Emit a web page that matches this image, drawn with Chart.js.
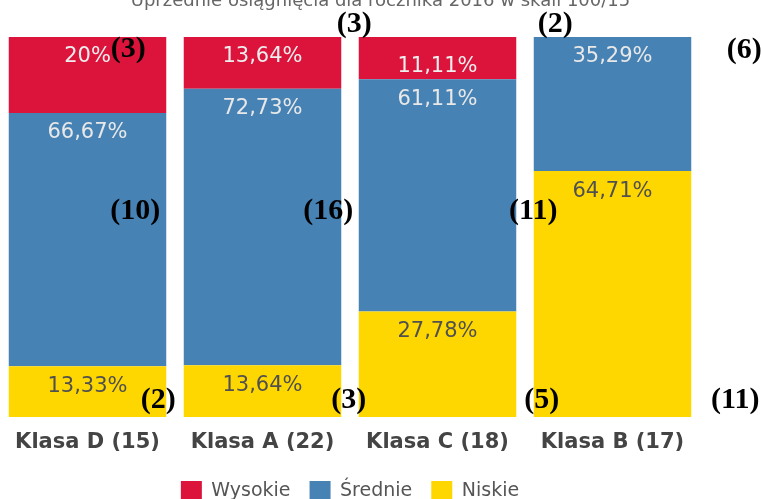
<!DOCTYPE html>
<html lang="pl">
<head>
<meta charset="utf-8">
<title>Uprzednie osiągnięcia</title>
<script src="https://cdn.jsdelivr.net/npm/chart.js@4/dist/chart.umd.min.js"></script>
<style>
    html, body { margin: 0; padding: 0; overflow: hidden; background: #fff; }
    #wrap { position: absolute; left: 0; top: -14px; width: 761px; height: 526px; }
</style>
</head>
<body>
<div id="wrap"><canvas id="chart"></canvas></div>
<script>
// Klasy i wyniki (procent uczniów w każdej grupie)
const classes = ['Klasa D (15)', 'Klasa A (22)', 'Klasa C (18)', 'Klasa B (17)'];
const wysokie = [20, 13.64, 11.11, 0];
const srednie = [66.67, 72.73, 61.11, 35.29];
const niskie = [13.33, 13.64, 27.78, 64.71];

// Liczba uczniów w grupach (dopiski w nawiasach)
const wysokieCount = [3, 3, 2, 0];
const srednieCount = [10, 16, 11, 6];
const niskieCount = [2, 3, 5, 11];

const chartTitle = 'Uprzednie osiągnięcia dla rocznika 2016 w skali 100/15';

function formatPercent(v) {
    return String(Math.round(v * 100) / 100).replace('.', ',') + '%';
}

// Percent labels near the top of each segment
const percentLabels = {
    id: 'percentLabels',
    afterDatasetsDraw(chart) {
        const ctx = chart.ctx;
        ctx.save();
        ctx.font = '21px "DejaVu Sans"';
        ctx.textAlign = 'center';
        ctx.textBaseline = 'middle';
        chart.data.datasets.forEach((ds, i) => {
            const meta = chart.getDatasetMeta(i);
            meta.data.forEach((bar, j) => {
                const v = ds.data[j];
                if (!v) return;
                const top = Math.min(bar.y, bar.base);
                const bottom = Math.max(bar.y, bar.base);
                let y = top + 20;
                if (bottom - top < 48) y = bottom - 13;
                ctx.fillStyle = ds.labelColor;
                ctx.fillText(formatPercent(v), bar.x, y);
            });
        });
        ctx.restore();
    }
};

// Counts written over the chart, placed from each bar's right edge
const countLabels = {
    id: 'countLabels',
    afterDraw(chart, args, opts) {
        const ctx = chart.ctx;
        const yScale = chart.scales.y;
        const bars = chart.getDatasetMeta(0).data;
        ctx.save();
        ctx.font = 'bold 30px "Liberation Serif"';
        ctx.fillStyle = '#000';
        ctx.textAlign = 'center';
        ctx.textBaseline = 'middle';
        opts.groups.forEach(g => {
            g.counts.forEach((n, j) => {
                const p = g.pos[j];
                if (!n || !p) return;
                const bar = bars[j];
                const right = bar.x + bar.width / 2;
                ctx.fillText('(' + n + ')', right + p[0], yScale.getPixelForValue(p[1]));
            });
        });
        ctx.restore();
    }
};

new Chart(document.getElementById('chart'), {
    type: 'bar',
    data: {
        labels: classes,
        datasets: [
            { label: 'Niskie', data: niskie, backgroundColor: '#FFD700', labelColor: '#505050' },
            { label: 'Średnie', data: srednie, backgroundColor: '#4682B4', labelColor: '#e8e8e8' },
            { label: 'Wysokie', data: wysokie, backgroundColor: '#DC143C', labelColor: '#eeeeee' }
        ]
    },
    options: {
        responsive: true,
        maintainAspectRatio: false,
        animation: false,
        layout: { padding: 0 },
        datasets: {
            bar: { barPercentage: 0.9, categoryPercentage: 1.0, borderWidth: 0 }
        },
        scales: {
            x: {
                stacked: true,
                grid: { display: false, drawTicks: false },
                border: { display: false },
                ticks: {
                    padding: 13,
                    color: '#444',
                    font: { family: '"DejaVu Sans"', size: 21, weight: 'bold' }
                },
                afterFit: function(scale) { scale.height = 45; }
            },
            y: {
                stacked: true,
                position: 'right',
                min: 0,
                max: 100,
                grid: { display: false, drawTicks: false },
                border: { display: false },
                ticks: { display: false },
                // empty strip on the right where the chart was cropped
                afterFit: function(scale) { scale.width = 61; }
            }
        },
        plugins: {
            title: {
                display: true,
                text: chartTitle,
                color: '#666',
                font: { family: '"DejaVu Sans"', size: 18, weight: 'normal' },
                padding: { top: 5, bottom: 24.4 }
            },
            legend: {
                position: 'bottom',
                fullSize: false,
                reverse: true,
                labels: {
                    boxWidth: 21,
                    boxHeight: 21,
                    padding: 19,
                    color: '#555',
                    font: { family: '"DejaVu Sans"', size: 19 }
                }
            },
            tooltip: { enabled: false },
            countLabels: {
                groups: [
                    { counts: wysokieCount, pos: [[-38, 96.8], [13, 103.4], [39, 103.4], null] },
                    { counts: srednieCount, pos: [[-31, 54.2], [-13, 54.2], [17, 54.2], [53, 96.6]] },
                    { counts: niskieCount, pos: [[-8, 4.5], [7.5, 4.5], [25.5, 4.5], [44, 4.5]] }
                ]
            }
        }
    },
    plugins: [percentLabels, countLabels]
});
</script>
</body>
</html>
